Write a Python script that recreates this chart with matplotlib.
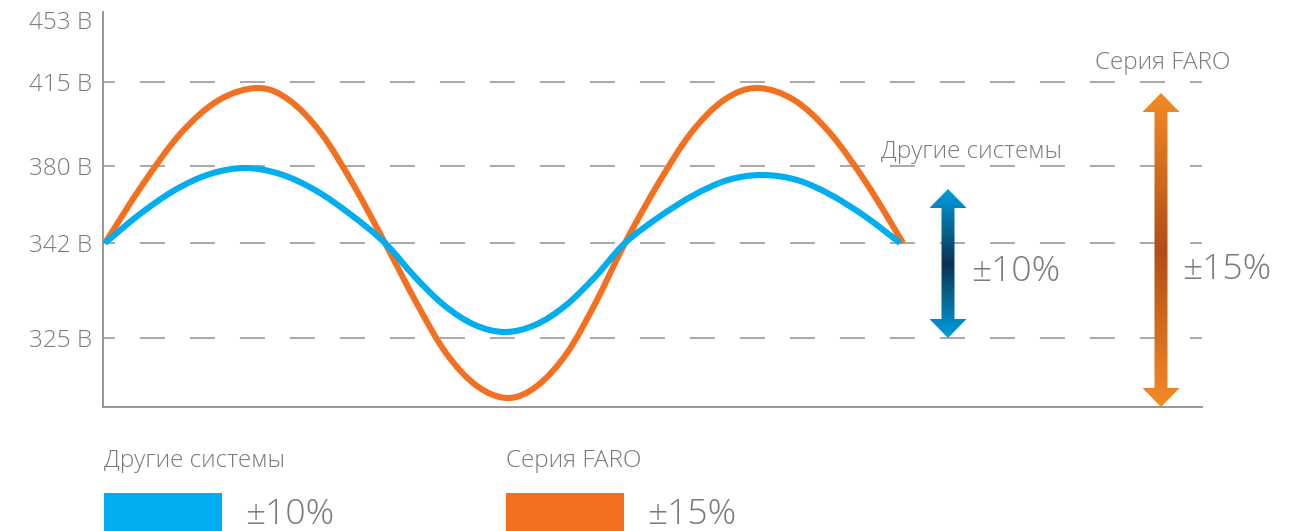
import numpy as np
import matplotlib
matplotlib.use("Agg")
import matplotlib.pyplot as plt
from matplotlib.path import Path
from matplotlib.patches import PathPatch, Polygon, Rectangle
from matplotlib.colors import LinearSegmentedColormap

plt.rcParams['font.family'] = ['Open Sans', 'DejaVu Sans']
plt.rcParams['lines.scale_dashes'] = False

# ---- data ----
tick_labels = ["453 В", "415 В", "380 В", "342 В", "325 В"]
tick_levels = [387, 325, 241, 164, 69]          # level scale of the drawing
grid_levels = [325, 241, 164, 69]

blue_x = [2, 37, 72, 107, 142, 177, 212, 247, 282,
          312, 342, 372, 402, 432, 462, 492, 522,
          556, 591, 625, 659, 694, 728, 763, 797]
blue_y = [164, 193, 217, 233, 239, 233, 217, 193, 164,
          130, 101, 82, 75, 82, 101, 130, 164,
          190, 212, 227, 232, 227, 212, 190, 164]

orange_x = [2, 40, 78, 116, 155, 186, 218, 250, 282,
            313, 343, 374, 405, 434, 464, 493, 522,
            555, 588, 621, 654, 691, 727, 764, 800]
orange_y = [164, 223, 274, 307, 319, 307, 274, 223, 164,
            105, 54, 21, 9, 21, 54, 105, 164,
            223, 274, 307, 319, 307, 274, 223, 164]

series_names = ["Другие системы", "Серия FARO"]
series_ranges = ["±10%", "±15%"]
series_colors = ["#00adef", "#f37021"]

# ---- figure ----
W, H = 1306, 531
fig = plt.figure(figsize=(W / 100, H / 100), dpi=100)
ax = fig.add_axes([103 / W, (H - 407) / H, 1099 / W, 395 / H])
ax.set_xlim(0, 1099)
ax.set_ylim(0, 395)

for s in ['top', 'right']:
    ax.spines[s].set_visible(False)
for s in ['left', 'bottom']:
    ax.spines[s].set_color('#8f8f8f')
    ax.spines[s].set_linewidth(1.3)
ax.set_xticks([])
ax.set_yticks(tick_levels)
ax.set_yticklabels(tick_labels, fontsize=17.5, color='#7a7a7a', fontweight='light')
ax.tick_params(axis='y', length=0, pad=8)

for lv in grid_levels:
    ax.axhline(lv, color='#9a9a9a', lw=1.2, linestyle=(9.4, (18, 18)), zorder=1)


def smooth_path(xs, ys):
    p = np.column_stack([xs, ys]).astype(float)
    pts = np.vstack([p[0], p, p[-1]])
    verts = [p[0]]
    codes = [Path.MOVETO]
    for i in range(1, len(pts) - 2):
        p0, p1, p2, p3 = pts[i - 1], pts[i], pts[i + 1], pts[i + 2]
        c1 = p1 + (p2 - p0) / 6.0
        c2 = p2 - (p3 - p1) / 6.0
        verts += [c1, c2, p2]
        codes += [Path.CURVE4] * 3
    return Path(verts, codes)


ax.add_patch(PathPatch(smooth_path(orange_x, orange_y), fill=False,
                       edgecolor=series_colors[1], lw=4.4, capstyle='butt', zorder=3))
ax.add_patch(PathPatch(smooth_path(blue_x, blue_y), fill=False,
                       edgecolor=series_colors[0], lw=4.4, capstyle='butt', zorder=4))


def gradient_arrow(xc, y_bot, y_top, c_end, c_mid):
    shaft, head, hl = 6.5, 18.5, 19
    verts = [(xc, y_top), (xc + head, y_top - hl), (xc + shaft, y_top - hl),
             (xc + shaft, y_bot + hl), (xc + head, y_bot + hl), (xc, y_bot),
             (xc - head, y_bot + hl), (xc - shaft, y_bot + hl),
             (xc - shaft, y_top - hl), (xc - head, y_top - hl)]
    poly = Polygon(verts, closed=True, facecolor='none', edgecolor='none')
    ax.add_patch(poly)
    cmap = LinearSegmentedColormap.from_list('g', [c_end, c_mid, c_end])
    grad = np.linspace(0, 1, 256).reshape(-1, 1)
    im = ax.imshow(grad, cmap=cmap, aspect='auto', origin='lower',
                   extent=(xc - head, xc + head, y_bot, y_top), zorder=5)
    im.set_clip_path(poly)


gradient_arrow(845, 69, 218, '#009fe0', '#0b3352')
gradient_arrow(1058, 0, 314, '#f48a24', '#b04e17')
ax.set_xlim(0, 1099)
ax.set_ylim(0, 395)

txt = dict(color='#7a7a7a', fontweight='light')
ax.text(959, 255, series_names[0], ha='right', va='center', fontsize=17.5, **txt)
ax.text(868, 135, series_ranges[0], ha='left', va='center', fontsize=25.5, **txt)
ax.text(1060, 344, series_names[1], ha='center', va='center', fontsize=17.5, **txt)
ax.text(1079, 137, series_ranges[1], ha='left', va='center', fontsize=25.5, **txt)

# ---- legend below ----
leg_x = [104, 506]
for i in range(2):
    fig.text(leg_x[i] / W, (H - 467) / H, series_names[i], ha='left', va='baseline',
             fontsize=17.5, **txt)
    fig.patches.append(Rectangle((leg_x[i] / W, 0), 118 / W, (H - 493) / H,
                                 transform=fig.transFigure, facecolor=series_colors[i],
                                 edgecolor='none'))
    fig.text((leg_x[i] + 141) / W, (H - 524) / H, series_ranges[i], ha='left',
             va='baseline', fontsize=25.5, **txt)

fig.savefig('out.png', dpi=100)
